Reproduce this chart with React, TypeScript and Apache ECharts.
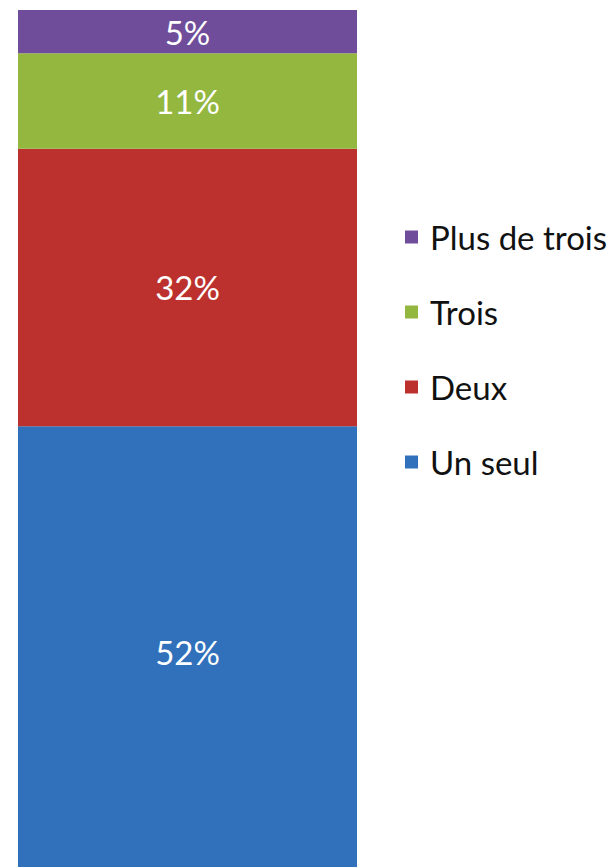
import React, { useEffect, useRef } from "react";
import * as echarts from "echarts";

const categories = ["Total"];
const seriesNames = ["Un seul", "Deux", "Trois", "Plus de trois"];
const seriesValues = [[52], [32], [11], [5]];
const seriesColors = ["#3170BB", "#BC312E", "#93B73F", "#6F4D9A"];
const legendOrder = ["Plus de trois", "Trois", "Deux", "Un seul"];

export default function App() {
  const ref = useRef<HTMLDivElement>(null);
  useEffect(() => {
    document.body.style.margin = "0";
    document.body.style.overflow = "hidden";
    if (!ref.current) return;
    const chart = echarts.init(ref.current, null, { renderer: "svg" });
    chart.setOption({
      animation: false,
      backgroundColor: "#ffffff",
      grid: { left: 18, width: 339, top: 10, height: 867 },
      xAxis: { type: "category", data: categories, show: false },
      yAxis: { type: "value", min: 0, max: 100, show: false },
      legend: {
        orient: "vertical",
        left: 400,
        top: 214,
        icon: "rect",
        itemWidth: 13,
        itemHeight: 13,
        itemGap: 39,
        data: legendOrder,
        textStyle: { fontFamily: "Lato", fontSize: 33, color: "#111", lineHeight: 36, padding: [0, 0, 0, 7] },
      },
      series: seriesNames.map((name, i) => ({
        name,
        type: "bar",
        stack: "total",
        barWidth: "100%",
        data: seriesValues[i],
        itemStyle: { color: seriesColors[i] },
        label: {
          show: true,
          position: "inside",
          formatter: "{c}%",
          color: "#ffffff",
          fontFamily: "Lato",
          fontSize: 33,
        },
      })),
    });
    return () => chart.dispose();
  }, []);
  return <div ref={ref} style={{ width: 614, height: 880 }} />;
}
